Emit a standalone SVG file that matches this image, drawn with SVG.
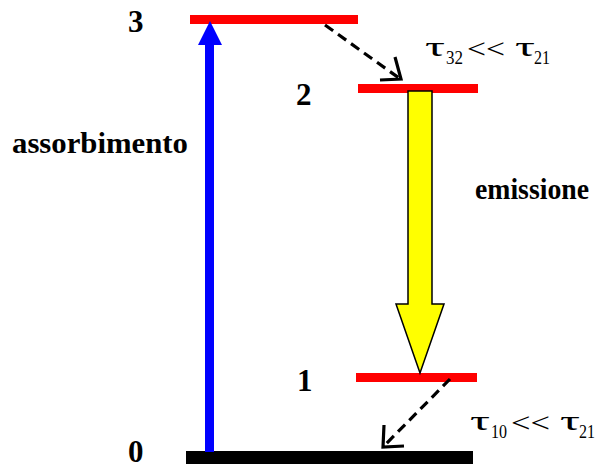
<svg xmlns="http://www.w3.org/2000/svg" width="601" height="468" viewBox="0 0 601 468">
<style>
.lvl{fill:#ff0000}
.num{font-family:"Liberation Serif","Times New Roman",serif;font-weight:bold;font-size:31px;fill:#000}
.lbl{font-family:"Liberation Serif","Times New Roman",serif;font-weight:bold;font-size:30px;fill:#000}
.tau{font-family:"Liberation Serif","Times New Roman",serif;font-size:27px;fill:#000}
.lt{font-family:"Liberation Serif","Times New Roman",serif;font-size:28px;fill:#000}
.sub{font-family:"Liberation Serif","Times New Roman",serif;font-size:19px;fill:#000}
.dash{fill:none;stroke:#000;stroke-width:3.2;stroke-dasharray:10 6}
.head{fill:none;stroke:#000;stroke-width:3.2;stroke-linejoin:miter}
</style>
<rect width="601" height="468" fill="#fff"/>
<g id="level3"><rect class="lvl" x="190" y="15" width="168" height="9"/><text class="num" x="128" y="32">3</text></g>
<g id="level2"><rect class="lvl" x="358" y="84" width="120" height="9"/><text class="num" x="296" y="105">2</text></g>
<g id="level1"><rect class="lvl" x="356" y="373" width="121" height="9"/><text class="num" x="297" y="391">1</text></g>
<g id="level0"><rect fill="#000" x="186" y="451" width="287" height="13"/><text class="num" x="128" y="462">0</text></g>
<g id="connectors">
<g id="absorption"><rect fill="#0000ff" x="205" y="44" width="9" height="408"/><polygon fill="#0000ff" points="198,45 210,21 222,45"/></g>
<g id="emission"><polygon fill="#ffff00" stroke="#000" stroke-width="1.5" points="408,91 432,91 432,304 444,304 420,373 396,304 408,304"/></g>
<g id="decay32"><line class="dash" x1="325" y1="25" x2="399" y2="78"/><polyline class="head" points="395,57 401,79 380,80"/></g>
<g id="decay10"><line class="dash" x1="450" y1="379" x2="384" y2="446"/><polyline class="head" points="384,425 383,447 404,446"/></g>
</g>
<text class="lbl" x="12" y="153" textLength="176" lengthAdjust="spacingAndGlyphs">assorbimento</text>
<text class="lbl" x="475" y="199" textLength="114" lengthAdjust="spacingAndGlyphs">emissione</text>
<g id="tau32">
<text class="tau" x="425" y="56" textLength="20" lengthAdjust="spacingAndGlyphs">τ</text>
<text class="sub" x="446" y="64" textLength="17" lengthAdjust="spacingAndGlyphs">32</text>
<text class="lt" x="467" y="58" textLength="38" lengthAdjust="spacingAndGlyphs">&lt;&lt;</text>
<text class="tau" x="515" y="56" textLength="20" lengthAdjust="spacingAndGlyphs">τ</text>
<text class="sub" x="534" y="64" textLength="16" lengthAdjust="spacingAndGlyphs">21</text>
</g>
<g id="tau10">
<text class="tau" x="470" y="430" textLength="20" lengthAdjust="spacingAndGlyphs">τ</text>
<text class="sub" x="491" y="438" textLength="16" lengthAdjust="spacingAndGlyphs">10</text>
<text class="lt" x="511" y="432" textLength="39" lengthAdjust="spacingAndGlyphs">&lt;&lt;</text>
<text class="tau" x="560" y="430" textLength="20" lengthAdjust="spacingAndGlyphs">τ</text>
<text class="sub" x="579" y="438" textLength="16" lengthAdjust="spacingAndGlyphs">21</text>
</g>
</svg>
